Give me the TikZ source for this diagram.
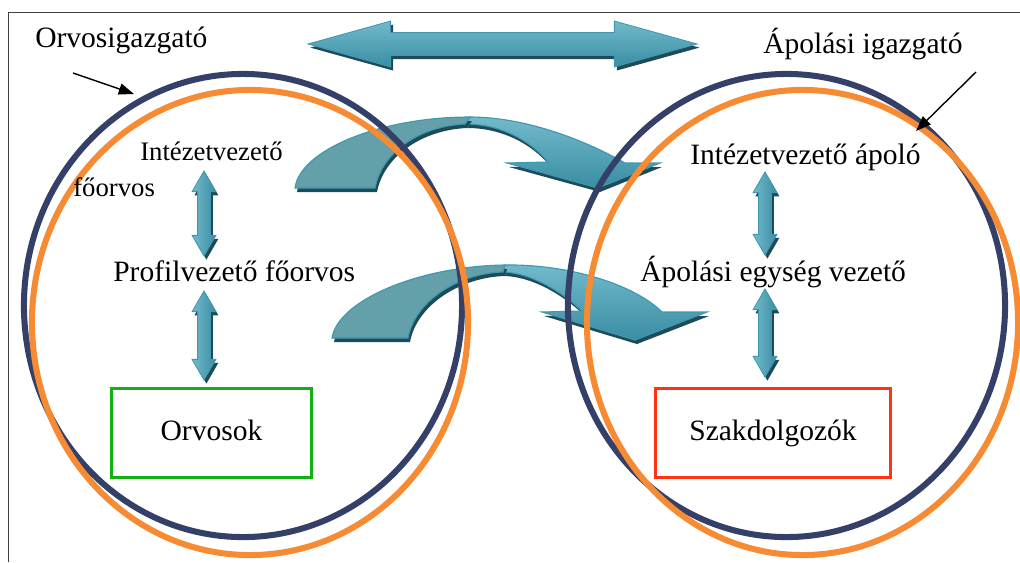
\documentclass[tikz,border=0pt]{standalone}
\usepackage{fontspec}
\setmainfont{Liberation Serif}
\usetikzlibrary{arrows.meta,shapes.arrows,shadows}
\definecolor{navyring}{HTML}{344068}
\definecolor{orangering}{HTML}{F68B33}
\definecolor{boxgreen}{HTML}{12B012}
\definecolor{boxred}{HTML}{FF3311}
\definecolor{teallight}{HTML}{72BACB}
\definecolor{tealmid}{HTML}{3A8DA4}
\definecolor{tealgray}{HTML}{63A0AA}
\definecolor{tealedge}{HTML}{3E98B0}
\definecolor{tealshadow}{HTML}{1E4B57}

\begin{document}
\begin{tikzpicture}[x=0.025cm, y=-0.025cm,
  lbl/.style={inner sep=0pt, anchor=base west, font=\fontsize{21}{25}\selectfont},
  lbls/.style={lbl, font=\fontsize{19}{23}\selectfont},
  ring/.style={line width=4.3pt},
  unitbox/.style={draw, line width=2.1pt, minimum height=2.225cm, text height=1em, text depth=0pt, font=\fontsize{21}{25}\selectfont},
  blockarr/.style={double arrow, draw=tealedge, line width=0.6pt, top color=teallight, bottom color=tealmid,
    drop shadow={shadow xshift=0.06cm, shadow yshift=-0.09cm, fill=tealshadow, opacity=1}},
  vblock/.style={blockarr, shape border rotate=90, inner sep=0.15cm, minimum width=0.575cm, double arrow head extend=0.1375cm, double arrow tip angle=60, left color=teallight, right color=tealmid},
  bent/.style={draw=tealedge, line width=0.8pt, preaction={fill=tealshadow, transform canvas={shift={(2,4)}}}},
  ptr/.style={-{Triangle[length=0.38cm,width=0.28cm]}, line width=1pt}]
  \useasboundingbox (0,0) rectangle (1020,562);
  % frame, cut at the right and at the bottom
  \draw[black!75, line width=0.7pt] (8,562) -- (8,12) -- (1020,12);

  % big arrow between the two heads
  \node[blockarr, inner xsep=0pt, inner ysep=0.275cm, minimum height=9.725cm, minimum width=1.125cm, double arrow head extend=0.2875cm, double arrow tip angle=31] (kapcsolat) at (502.5,44) {};

  % bent arrows, left to right
  \path[bent, top color=teallight, bottom color=tealmid] (470,117) .. controls (525,117) and (585,140) .. (625,163) -- (660,163) -- (598,188) -- (507,163) -- (548,162) .. controls (530,140) and (500,124) .. (465,124) -- cycle;
  \path[bent, fill=tealgray] (295,188) .. controls (300,150) and (380,117) .. (470,117) -- (465,124) .. controls (420,126) and (382,152) .. (375,188) -- cycle;
  \path[bent, top color=teallight, bottom color=tealmid] (505,265) .. controls (570,264) and (635,285) .. (662,312) -- (707,312) -- (635,340) -- (542,312) -- (582,311) .. controls (560,290) and (530,273) .. (503,272) -- cycle;
  \path[bent, fill=tealgray] (332,338) .. controls (338,300) and (420,266) .. (505,265) -- (503,272) .. controls (460,273) and (415,300) .. (408,338) -- cycle;

  % rings
  \draw[ring, navyring] (243,305.5) ellipse [x radius=5.475cm, y radius=5.7875cm];
  \draw[ring, orangering] (250,322.5) ellipse [x radius=5.45cm, y radius=5.8125cm];
  \draw[ring, navyring] (786.5,305.5) ellipse [x radius=5.4625cm, y radius=5.7875cm];
  \draw[ring, orangering] (802.5,322.5) ellipse [x radius=5.3875cm, y radius=5.8125cm];

  % left side
  \node[lbl] (orvig) at (35,47) {Orvosigazgató};
  \node[lbls] (intf) at (140,160) {Intézetvezető};
  \node[lbls] (foorv) at (73,196) {főorvos};
  \node[lbl] (prof) at (113,281) {Profilvezető főorvos};
  \node[unitbox, draw=boxgreen, minimum width=5.0cm] (orvosok) at (211.5,433) {Orvosok};
  \node[vblock, minimum height=2.125cm] (vl1) at (204,213.5) {};
  \node[vblock, minimum height=2.225cm] (vl2) at (204,335.5) {};

  % right side
  \node[lbl] (apig) at (763,53) {Ápolási igazgató};
  \node[lbl] (inta) at (690,164) {Intézetvezető ápoló};
  \node[lbl] (apegys) at (640,281) {Ápolási egység vezető};
  \node[unitbox, draw=boxred, minimum width=5.875cm] (szakd) at (773,433) {Szakdolgozók};
  \node[vblock, minimum height=2.075cm] (vr1) at (765,213.5) {};
  \node[vblock, minimum height=2.2cm] (vr2) at (765,333) {};

  % pointers to the rings
  \coordinate (orvtail) at (73,73);
  \coordinate (orvhead) at (134,94);
  \coordinate (aptail) at (976,72);
  \coordinate (aphead) at (916,131);
  \draw[ptr] (orvtail) -- (orvhead);
  \draw[ptr] (aptail) -- (aphead);
\end{tikzpicture}
\end{document}
